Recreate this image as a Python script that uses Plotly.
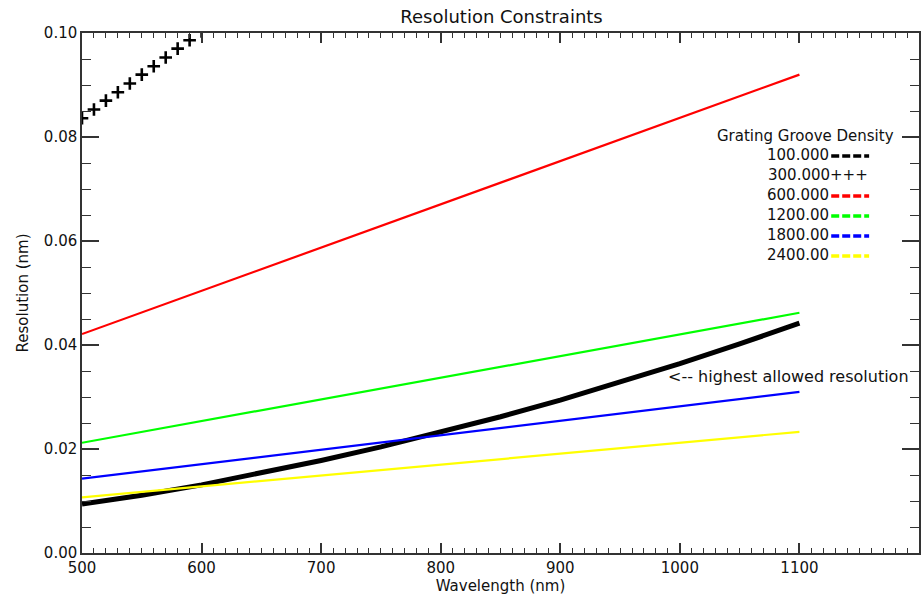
import plotly.graph_objects as go

# Wavelength samples (nm)
wl_lines = [500, 800, 1100]
wl_300 = [500, 510, 520, 530, 540, 550, 560, 570, 580, 590, 600]
wl_limit = [500, 550, 600, 650, 700, 750, 800, 850, 900, 950, 1000, 1050, 1100]

# Resolution (nm) for each grating groove density
res_300 = [0.0836, 0.0853, 0.0870, 0.0886, 0.0903, 0.0920, 0.0936, 0.0953, 0.0970, 0.0986, 0.1003]
res_600 = [0.0421, 0.0670, 0.0920]
res_1200 = [0.0212, 0.0337, 0.0462]
res_1800 = [0.0143, 0.0226, 0.0310]
res_2400 = [0.0107, 0.0170, 0.0233]

# Highest allowed resolution
res_limit = [0.0094, 0.0111, 0.0131, 0.0154, 0.0178, 0.0204, 0.0232,
             0.0262, 0.0294, 0.0328, 0.0364, 0.0402, 0.0442]

legend_labels = ["100.000", "300.000", "600.000", "1200.00", "1800.00", "2400.00"]
legend_colors = ["#000000", "#000000", "#ff0000", "#00ff00", "#0000ff", "#ffff00"]

x_ticks = [500, 600, 700, 800, 900, 1000, 1100]
y_ticks = [0.00, 0.02, 0.04, 0.06, 0.08, 0.10]

FONT = "DejaVu Sans"
INK = "#111111"

fig = go.Figure()

fig.add_trace(go.Scatter(x=wl_limit, y=res_limit, mode="lines",
                         line=dict(color="#000000", width=5), showlegend=False))
fig.add_trace(go.Scatter(x=wl_300, y=res_300, mode="markers",
                         marker=dict(symbol="cross-thin", size=9,
                                     line=dict(color="#000000", width=2.6)),
                         showlegend=False))
for ys, col in [(res_600, "#ff0000"), (res_1200, "#00ff00"),
                (res_1800, "#0000ff"), (res_2400, "#ffff00")]:
    fig.add_trace(go.Scatter(x=wl_lines, y=ys, mode="lines",
                             line=dict(color=col, width=2.2), showlegend=False))

# Plot-area geometry in pixels, used to place the legend block
L, R, T, B = 82, 921, 33, 553
W, H = 923, 597


def px(xp):
    return (xp - L) / (R - L)


def py(yp):
    return (B - yp) / (B - T)


annotations = [
    dict(text="Grating Groove Density", x=px(898), y=py(136), xref="paper", yref="paper",
         xanchor="right", yanchor="middle", showarrow=False,
         font=dict(family=FONT, size=15, color=INK)),
    dict(text="<-- highest allowed resolution", x=px(667), y=py(376), xref="paper",
         yref="paper", xanchor="left", yanchor="middle", showarrow=False,
         font=dict(family=FONT, size=16, color=INK)),
]
shapes = []
for i, (lab, col) in enumerate(zip(legend_labels, legend_colors)):
    row_y = 155 + 20 * i
    if lab == "300.000":
        annotations.append(dict(text=lab + "+++", x=px(768), y=py(row_y), xref="paper",
                                yref="paper", xanchor="left", yanchor="middle",
                                showarrow=False, font=dict(family=FONT, size=15, color=INK)))
        continue
    annotations.append(dict(text=lab, x=px(833), y=py(row_y), xref="paper", yref="paper",
                            xanchor="right", yanchor="middle", showarrow=False,
                            font=dict(family=FONT, size=15, color=INK)))
    shapes.append(dict(type="line", xref="paper", yref="paper",
                       x0=px(833), x1=px(871), y0=py(row_y + 1), y1=py(row_y + 1),
                       line=dict(color=col, width=3.5, dash="8px,3px")))

axis_common = dict(showline=True, linecolor="#333333", linewidth=1.5, mirror="allticks",
                   ticks="inside", tickcolor="#333333", tickwidth=1.5,
                   showgrid=False, zeroline=False,
                   tickfont=dict(family=FONT, size=15, color=INK))

fig.update_layout(
    width=W, height=H,
    margin=dict(l=L, r=W - R, t=T, b=H - B),
    paper_bgcolor="white", plot_bgcolor="white",
    title=dict(text="Resolution Constraints", x=(L + 0.5 * (R - L)) / W,
               xanchor="center", y=1 - 17 / H, yanchor="middle",
               font=dict(family=FONT, size=18, color=INK)),
    xaxis=dict(range=[500, 1200], tickvals=x_ticks, ticklen=10,
               minor=dict(dtick=10, ticklen=5, ticks="inside", tickcolor="#333333",
                          tickwidth=1.2, showgrid=False),
               title=dict(text="Wavelength (nm)", standoff=4,
                          font=dict(family=FONT, size=15, color=INK)),
               **axis_common),
    yaxis=dict(range=[0, 0.1], tickvals=y_ticks, tickformat=".2f", ticklen=17,
               minor=dict(dtick=0.005, ticklen=9, ticks="inside", tickcolor="#333333",
                          tickwidth=1.2, showgrid=False),
               title=dict(text="Resolution (nm)", standoff=12,
                          font=dict(family=FONT, size=15, color=INK)),
               **axis_common),
    annotations=annotations,
    shapes=shapes,
)

fig.write_html("out.html")
